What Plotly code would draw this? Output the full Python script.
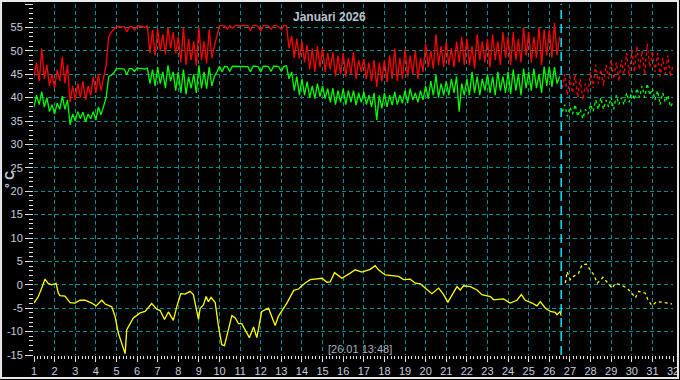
import plotly.graph_objects as go

# ---------------- data ----------------
STEP = 0.125  # 3-hour samples
red_start = 1.0
red_values = [
    44.5, 47.5, 43.5, 50.5, 44.0, 47.0, 42.5, 45.0,   # day 1
    42.0, 46.0, 43.5, 48.7, 43.0, 47.0, 39.0, 42.5,   # day 2
    39.5, 43.0, 40.0, 43.5, 39.5, 42.5, 40.5, 44.5,   # day 3
    41.0, 45.0, 41.5, 44.5, 47.0, 53.0, 54.0, 54.6,   # day 4
    55.1, 55.2, 55.1, 55.2, 54.0, 55.1, 55.2, 54.4,   # day 5
    55.2, 55.3, 55.2, 55.0, 55.3, 49.5, 54.5, 49.0,   # day 6
    54.7, 50.0, 53.5, 49.2, 55.0, 50.5, 54.0, 49.5,   # day 7
    53.0, 47.5, 55.0, 47.0, 52.5, 48.0, 52.0, 46.8,   # day 8
    55.0, 48.0, 52.0, 47.3, 54.5, 48.5, 51.0, 53.5,   # day 9
    55.4, 55.4, 55.3, 54.6, 55.4, 54.8, 55.4, 55.4,   # day 10
    55.3, 55.4, 55.4, 55.4, 54.3, 55.4, 55.4, 55.2,   # day 11
    54.2, 55.4, 55.4, 55.3, 54.6, 55.4, 55.4, 55.1,   # day 12
    54.6, 55.4, 55.4, 50.5, 53.2, 48.5, 52.6, 48.3,   # day 13
    52.0, 47.5, 51.2, 46.0, 50.5, 45.5, 51.0, 46.5,   # day 14
    50.5, 45.5, 49.5, 46.0, 49.7, 44.5, 49.0, 45.0,   # day 15
    49.5, 44.5, 48.5, 45.0, 49.7, 44.0, 48.0, 45.5,   # day 16
    48.3, 44.0, 47.5, 43.5, 48.0, 42.3, 47.5, 43.5,   # day 17
    48.0, 43.3, 49.0, 44.0, 50.5, 43.5, 48.5, 44.0,   # day 18
    50.3, 44.5, 49.0, 45.0, 50.0, 44.0, 48.5, 45.5,   # day 19
    51.5, 46.5, 50.0, 46.2, 53.5, 47.0, 51.0, 46.5,   # day 20
    51.9, 47.0, 50.5, 46.5, 52.0, 47.5, 53.0, 47.0,   # day 21
    52.6, 47.0, 51.0, 46.2, 53.5, 48.0, 52.0, 47.5,   # day 22
    52.5, 46.5, 53.5, 48.0, 52.0, 47.0, 54.0, 48.5,   # day 23
    53.0, 47.0, 54.0, 48.0, 52.5, 47.5, 55.0, 49.0,   # day 24
    54.0, 47.5, 53.0, 48.5, 55.0, 47.0, 54.5, 49.0,   # day 25
    54.5, 48.5, 56.0, 49.0, 53.0,                     # day 26
]
green_values = [
    38.0, 40.5, 38.5, 41.3, 38.0, 40.0, 37.0, 38.5,
    36.5, 38.8, 37.5, 40.3, 37.5, 39.5, 34.2, 36.5,
    35.0, 37.0, 35.5, 36.9, 34.8, 36.5, 35.5, 37.0,
    35.2, 38.0, 36.3, 38.4, 40.0, 44.5, 44.8, 45.3,
    46.2, 46.2, 46.2, 46.1, 44.9, 46.2, 46.2, 45.6,
    46.3, 46.3, 46.2, 46.1, 46.3, 43.0, 46.0, 42.5,
    46.5, 43.0, 45.5, 42.0, 46.9, 43.5, 45.5, 41.5,
    45.5, 41.0, 46.0, 40.7, 44.5, 42.0, 45.0, 41.0,
    46.9, 42.0, 45.5, 41.9, 46.5, 42.5, 44.5, 45.5,
    46.7, 45.5, 46.7, 46.6, 45.6, 46.7, 46.7, 46.7,
    46.6, 46.7, 46.7, 46.6, 45.5, 46.7, 46.7, 46.6,
    45.5, 46.7, 46.7, 46.6, 45.6, 46.7, 46.7, 46.6,
    45.6, 46.7, 46.8, 44.0, 45.5, 41.5, 44.5, 40.5,
    44.0, 40.5, 43.4, 40.0, 42.5, 39.8, 43.0, 40.2,
    42.5, 39.8, 41.9, 39.0, 42.0, 38.5, 41.5, 39.0,
    41.9, 38.5, 41.5, 39.0, 41.5, 38.4, 41.0, 39.0,
    41.2, 38.5, 40.5, 38.0, 41.0, 35.2, 40.5, 37.7,
    41.0, 38.0, 40.5, 38.4, 41.2, 38.5, 40.5, 38.8,
    41.5, 38.8, 41.9, 39.5, 41.0, 39.0, 41.5, 39.5,
    42.5, 39.8, 43.5, 40.5, 44.8, 40.0, 43.0, 40.5,
    43.5, 40.5, 44.0, 41.0, 44.5, 37.0, 43.0, 40.5,
    44.0, 40.5, 45.5, 41.0, 44.5, 40.5, 44.0, 41.5,
    45.0, 41.0, 44.5, 40.5, 45.5, 41.5, 44.5, 41.0,
    45.5, 40.8, 46.0, 41.5, 45.0, 40.5, 46.2, 42.0,
    45.5, 41.5, 46.2, 42.0, 45.0, 41.0, 46.6, 42.5,
    46.6, 42.3, 46.5, 43.0, 44.5,
]

fc_start = 26.625
red_forecast = [
    42.0, 45.0, 40.5, 44.5, 41.0, 45.0, 40.0, 44.0, 39.5, 43.0, 41.0,
    45.5, 42.0, 47.0, 43.0, 46.0, 42.5, 47.0, 44.0, 48.0, 44.0, 47.5,
    43.5, 48.0, 45.0, 49.5, 44.5, 50.5, 45.5, 51.0, 46.0, 50.0, 45.0,
    51.5, 46.5, 50.0, 45.5, 49.5, 44.5, 48.5, 45.0, 49.0, 44.5, 47.0,
]
green_forecast = [
    37.0, 38.5, 36.0, 38.0, 36.5, 38.5, 36.0, 37.5, 35.5, 37.5, 36.5,
    38.5, 37.0, 39.5, 37.5, 40.0, 37.5, 39.5, 38.0, 40.0, 37.5, 40.5,
    38.5, 40.0, 38.5, 41.0, 39.0, 41.5, 39.5, 42.0, 40.0, 42.5, 40.0,
    43.0, 40.5, 42.0, 39.5, 41.5, 38.5, 41.0, 39.0, 40.5, 38.0, 39.0,
]

yellow_days = [
    1.0, 1.21, 1.4, 1.53, 1.69, 1.86, 2.07, 2.18, 2.26, 2.5, 2.75, 2.99,
    3.23, 3.48, 3.8, 4.01, 4.29, 4.45, 4.77, 4.93, 5.09, 5.26, 5.42, 5.5,
    5.82, 6.15, 6.39, 6.71, 6.96, 7.12, 7.33, 7.52, 7.76, 7.93, 8.12, 8.33,
    8.57, 8.73, 8.98, 9.06, 9.22, 9.35, 9.46, 9.59, 9.79, 9.95, 10.11,
    10.24, 10.35, 10.6, 10.76, 10.92, 11.08, 11.24, 11.45, 11.65, 11.81,
    12.05, 12.38, 12.7, 12.86, 13.27, 13.6, 13.83, 14.14, 14.4, 14.97,
    15.21, 15.37, 15.58, 15.94, 16.34, 16.58, 16.91, 17.31, 17.55, 17.71,
    18.04, 18.2, 18.69, 18.93, 19.25, 19.5, 19.74, 19.98, 20.3, 20.63,
    20.87, 21.08, 21.52, 21.68, 21.84, 22.17, 22.49, 22.73, 23.14, 23.3,
    23.78, 24.1, 24.43, 24.64, 24.83, 25.16, 25.4, 25.56, 25.81, 26.05,
    26.29, 26.37, 26.53, 26.57,
]
yellow_temps = [
    -3.9, -2.5, -0.4, 1.2, 0.3, 0.0, 0.3, -1.8, -2.3, -2.4, -3.8, -3.9,
    -3.3, -3.3, -3.9, -4.5, -3.3, -4.1, -4.7, -6.7, -10.3, -12.4, -14.7, -9.6,
    -7.1, -6.0, -5.7, -4.0, -5.2, -5.5, -7.4, -5.8, -7.6, -4.6, -1.9, -2.0,
    -1.4, -2.1, -7.4, -5.0, -4.3, -2.5, -3.6, -2.7, -3.8, -8.9, -12.8,
    -13.0, -11.0, -6.6, -7.1, -8.3, -8.3, -9.6, -11.3, -9.0, -11.3,
    -5.7, -5.0, -8.7, -6.7, -3.9, -1.2, -0.9, 0.35, 1.1, 1.4,
    0.55, 0.6, 2.6, 1.4, 2.5, 3.2, 2.7, 3.3, 4.1, 3.2,
    2.1, 2.0, 1.8, 1.1, 1.2, 0.35, 0.2, -0.7, -1.9, -0.7,
    -2.1, -3.7, -0.4, -1.1, -0.2, -0.4, -1.1, -2.1, -2.5, -3.2,
    -3.0, -3.9, -3.3, -2.1, -3.3, -3.9, -4.5, -3.6, -5.0, -5.7,
    -5.9, -6.4, -5.7, -6.6,
]
yellow_fc_days = [
    26.78, 26.86, 27.02, 27.18, 27.42, 27.59, 27.8, 28.0, 28.16, 28.33,
    28.6, 28.8, 29.04, 29.2, 29.45, 29.77, 30.01, 30.17, 30.34, 30.66,
    30.8, 30.98, 31.22, 31.47, 31.71, 31.95,
]
yellow_fc_temps = [
    0.35, 2.8, 1.1, 1.8, 2.5, 4.3, 4.4, 3.2, 2.1, 0.35,
    1.6, 0.6, -0.7, 0.3, 0.0, -0.7, -1.8, -2.8, -1.4, -1.8,
    -3.4, -4.4, -3.6, -3.7, -3.9, -4.1,
]

now_day = 26.575
title_text = "Januari 2026"
stamp_text = "[26.01 13:48]"
y_title = "° C"
x_ticks = list(range(1, 33))
y_ticks = list(range(-15, 61, 5))

# ---------------- figure ----------------
def times(start, n):
    return [start + i * STEP for i in range(n)]

fig = go.Figure()
lw = 1.3
fig.add_trace(go.Scatter(x=times(red_start, len(red_values)), y=red_values,
                         mode="lines", line=dict(color="#ff0000", width=lw)))
fig.add_trace(go.Scatter(x=times(red_start, len(green_values)), y=green_values,
                         mode="lines", line=dict(color="#00ff00", width=lw)))
fig.add_trace(go.Scatter(x=yellow_days, y=yellow_temps,
                         mode="lines", line=dict(color="#ffff00", width=lw)))
fig.add_trace(go.Scatter(x=times(fc_start, len(red_forecast)), y=red_forecast,
                         mode="lines", line=dict(color="#ff0000", width=lw, dash="3px,3px")))
fig.add_trace(go.Scatter(x=times(fc_start, len(green_forecast)), y=green_forecast,
                         mode="lines", line=dict(color="#00ff00", width=lw, dash="3px,3px")))
fig.add_trace(go.Scatter(x=yellow_fc_days, y=yellow_fc_temps,
                         mode="lines", line=dict(color="#ffff00", width=lw, dash="3px,3px")))

fig.add_shape(type="line", xref="x", yref="paper", x0=now_day, x1=now_day, y0=0, y1=1,
              line=dict(color="#00e5ff", width=1.5, dash="9px,5px"))
# outer frame
fig.add_shape(type="rect", xref="paper", yref="paper",
              x0=-0.0516, x1=1.0078, y0=-0.0655, y1=1.0085,
              line=dict(color="#e8e8e8", width=2))

tick_color = "#c4d0dc"
grid_color = "#008f94"
fig.update_layout(
    width=680, height=380,
    margin=dict(l=34, r=7, t=4, b=25),
    paper_bgcolor="black", plot_bgcolor="black",
    showlegend=False,
    font=dict(family="Liberation Sans, Arial, sans-serif", size=11, color=tick_color),
    xaxis=dict(range=[1, 32], tickmode="array", tickvals=x_ticks, ticktext=[str(v) for v in x_ticks],
               ticks="outside", ticklen=6, tickcolor="#e0e0e0", tickwidth=1,
               showgrid=True, gridcolor=grid_color, griddash="4px,3px", gridwidth=1,
               zeroline=False, showline=False, fixedrange=True, automargin=False,
               tickfont=dict(size=11, color=tick_color),
               minor=dict(dtick=1 / 6, tick0=1, ticks="outside", ticklen=3,
                          tickcolor="#e0e0e0", showgrid=False)),
    yaxis=dict(range=[-15, 60], tickmode="array", tickvals=y_ticks, ticktext=[str(v) for v in y_ticks],
               ticks="outside", ticklen=8, tickcolor="#e0e0e0", tickwidth=1,
               showgrid=True, gridcolor=grid_color, griddash="4px,3px", gridwidth=1,
               zeroline=False, showline=False, fixedrange=True, automargin=False,
               tickfont=dict(size=11, color=tick_color),
               minor=dict(dtick=1, tick0=0, ticks="outside", ticklen=4,
                          tickcolor="#e0e0e0", showgrid=False)),
    annotations=[
        dict(text="<b>" + title_text + "</b>", xref="paper", yref="paper", x=0.463, y=0.963,
             xanchor="center", yanchor="middle",
             showarrow=False, font=dict(size=12, color="#b8c2cc")),
        dict(text=stamp_text, xref="paper", yref="paper", x=0.51, y=0.017,
             xanchor="center", yanchor="middle",
             showarrow=False, font=dict(size=11, color="#aab2ba")),
        dict(text="<b>" + y_title + "</b>", xref="paper", yref="paper", x=-0.0385, y=0.5,
             xanchor="center", yanchor="middle",
             textangle=-90, showarrow=False, font=dict(size=12, color=tick_color)),
    ],
)

fig.write_html("out.html", config={"displayModeBar": False},
               post_script="document.body.style.margin='0';document.body.style.background='black';")
